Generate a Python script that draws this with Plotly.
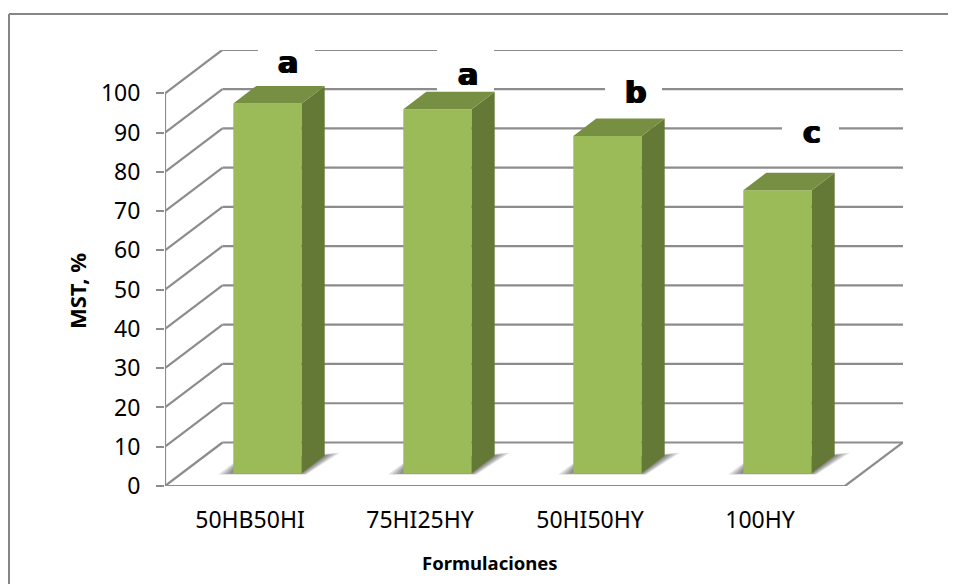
import plotly.graph_objects as go

categories = ["50HB50HI", "75HI25HY", "50HI50HY", "100HY"]
mst_values = [94.2, 92.7, 85.9, 72.1]
y_ticks = [0, 10, 20, 30, 40, 50, 60, 70, 80, 90, 100]
letters = ["a", "a", "b", "c"]

# The page puts the figure 8 px in from its top left corner
PAGE = 8
W, H = 956 - PAGE, 584 - PAGE
# pixel geometry of the pseudo-3D frame, in figure pixels
X0, X_FRONT_END, X_RIGHT = 165.0 - PAGE, 845.0 - PAGE, 903.0 - PAGE
Y0, Y100, Y_TOP = 486.0 - PAGE, 93.3 - PAGE, 50.0 - PAGE
CAT_W = (X_FRONT_END - X0) / 4
PX_Y = (Y0 - Y100) / 100
WALL_DX, WALL_DY = 57.5 / CAT_W, 43.5 / PX_Y
BAR_DX, BAR_DY = 17.5 / CAT_W, 12.7 / PX_Y
DEPTH_DX, DEPTH_DY = 23.0 / CAT_W, 17.5 / PX_Y
BAR_W = 68.4 / CAT_W

x_range = [-0.5, (X_RIGHT - X0) / CAT_W - 0.5]
y_range = [0, (Y0 - Y_TOP) / PX_Y]

def dx(px):
    return (px - PAGE - X0) / CAT_W - 0.5

def dy(px):
    return (Y0 - (px - PAGE)) / PX_Y

def paper_x(px):
    return (px - PAGE - X0) / (X_RIGHT - X0)

def paper_y(px):
    return (Y0 - (px - PAGE)) / (Y0 - Y_TOP)

GRID = "#8c8c8c"
shapes = []

def seg(x1, y1, x2, y2, width=2.2, color=GRID):
    shapes.append(dict(type="line", xref="x", yref="y", x0=x1, y0=y1, x1=x2, y1=y2,
                       layer="below", line=dict(color=color, width=width)))

wall_left = -0.5 + WALL_DX
for t in y_ticks:
    seg(-0.5, t, wall_left, t + WALL_DY)
    seg(wall_left, t + WALL_DY, x_range[1], t + WALL_DY)
seg(-0.5, 0, 3.5, 0)
seg(3.5, 0, x_range[1], WALL_DY)
seg(-0.5, 0, -0.5, 100)

# white boxes behind the significance letters interrupt the grid
letter_box_x = [286.5, 465.5, 633.5, 810.5]
letter_box_y = [58, 70, 92, 128]
for bx, by in zip(letter_box_x, letter_box_y):
    shapes.append(dict(type="rect", xref="x", yref="y",
                       x0=dx(bx - 28.5), x1=dx(bx + 28.5), y0=dy(by + 21), y1=dy(by - 21),
                       layer="below", fillcolor="white", line=dict(width=0)))

# soft floor shadows, drawn beneath the bars
def poly(pts):
    return "M " + " L ".join(f"{x},{y}" for x, y in pts) + " Z"

for i in range(len(categories)):
    l = i + BAR_DX - BAR_W / 2
    r = i + BAR_DX + BAR_W / 2
    for grow, op in [(1.0, 0.18), (0.75, 0.22), (0.5, 0.25), (0.25, 0.3)]:
        gx = grow * 15 / CAT_W
        gy = grow * 3 / PX_Y
        pts = [(l - gx, BAR_DY - 0.4 * gy), (r + 0.3 * gx, BAR_DY - 0.4 * gy),
               (r + DEPTH_DX + gx, BAR_DY + DEPTH_DY + gy),
               (l + DEPTH_DX * 0.2, BAR_DY + DEPTH_DY * 0.6 + gy)]
        shapes.append(dict(type="path", xref="x", yref="y", path=poly(pts), layer="below",
                           fillcolor="#555555", opacity=op, line=dict(width=0)))

# open chart frame: only the top and left edges fall inside the picture
for px0, py0, px1, py1 in [(9, 14, 960, 14), (9, 14, 9, 590)]:
    shapes.append(dict(type="line", xref="paper", yref="paper",
                       x0=paper_x(px0), x1=paper_x(px1), y0=paper_y(py0), y1=paper_y(py1),
                       layer="below", line=dict(color="#868686", width=2)))

fig = go.Figure()

# front faces
fig.add_trace(go.Bar(
    x=[i + BAR_DX for i in range(len(categories))],
    y=mst_values,
    base=BAR_DY,
    width=BAR_W,
    marker=dict(color="#9BBB59", line=dict(width=0)),
    hoverinfo="skip",
    showlegend=False,
))

# side and top faces derived from the same values
for i, v in enumerate(mst_values):
    l = i + BAR_DX - BAR_W / 2
    r = i + BAR_DX + BAR_W / 2
    top = BAR_DY + v
    fig.add_trace(go.Scatter(
        x=[r, r + DEPTH_DX, r + DEPTH_DX, r, r],
        y=[BAR_DY, BAR_DY + DEPTH_DY, top + DEPTH_DY, top, BAR_DY],
        mode="lines", fill="toself", fillcolor="#657937",
        line=dict(width=0), hoverinfo="skip", showlegend=False))
    fig.add_trace(go.Scatter(
        x=[l, r, r + DEPTH_DX, l + DEPTH_DX, l],
        y=[top, top, top + DEPTH_DY, top + DEPTH_DY, top],
        mode="lines", fill="toself", fillcolor="#778F43",
        line=dict(width=0), hoverinfo="skip", showlegend=False))

letter_x = [287.7, 467.7, 635, 812]
letter_y = [62, 74, 92, 132]
annotations = []
for txt, lx, ly in zip(letters, letter_x, letter_y):
    annotations.append(dict(
        x=dx(lx), y=dy(ly), xref="x", yref="y", text=f"<b>{txt}</b>", showarrow=False,
        xanchor="center", yanchor="middle",
        font=dict(family="DejaVu Sans", size=30, color="black",
                  shadow="1px 0 0 black, -1px 0 0 black")))

annotations.append(dict(
    x=paper_x(490), y=paper_y(562), xref="paper", yref="paper", text="<b>Formulaciones</b>",
    showarrow=False, xanchor="center", yanchor="middle",
    font=dict(family="Noto Sans", size=18.5, color="black")))
annotations.append(dict(
    x=paper_x(77), y=paper_y(291), xref="paper", yref="paper", text="<b>MST, %</b>",
    showarrow=False, textangle=-90, xanchor="center", yanchor="middle",
    font=dict(family="Noto Sans", size=22, color="black")))

fig.update_layout(
    width=W, height=H,
    autosize=False,
    margin=dict(l=X0, r=W - X_RIGHT, t=Y_TOP, b=H - Y0, pad=0),
    paper_bgcolor="white", plot_bgcolor="white",
    showlegend=False,
    shapes=shapes,
    annotations=annotations,
    font=dict(family="Noto Sans", size=23, color="black"),
)
fig.update_xaxes(range=x_range, tickmode="array", tickvals=list(range(4)), ticktext=categories,
                 showgrid=False, zeroline=False, showline=False, ticks="", ticklabelstandoff=18,
                 tickfont=dict(family="Noto Sans", size=23, color="black"), fixedrange=True)
fig.update_yaxes(range=y_range, tickmode="array", tickvals=y_ticks, showgrid=False, zeroline=False,
                 showline=False, ticks="outside", ticklen=8, tickwidth=2, tickcolor=GRID,
                 ticklabelstandoff=11, tickfont=dict(family="Noto Sans", size=23, color="black"),
                 fixedrange=True)

fig.write_html("out.html", config={"displayModeBar": False})
